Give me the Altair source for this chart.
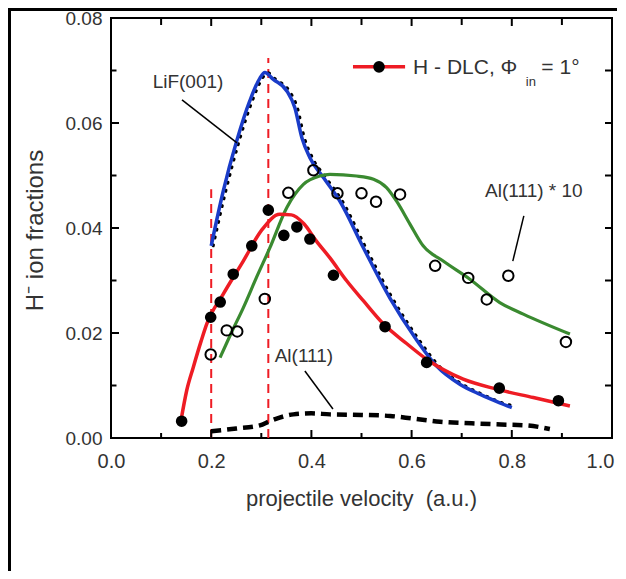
import altair as alt
import pandas as pd

FONT = "Liberation Sans"
TXT = "#333333"

# ---- measured H-DLC (filled circles) ----
dlc_x = [0.141, 0.199, 0.218, 0.244, 0.281, 0.314, 0.345, 0.371, 0.397, 0.444, 0.547, 0.630, 0.775, 0.893]
dlc_y = [0.0032, 0.0230, 0.0259, 0.0312, 0.0366, 0.0434, 0.0386, 0.0402, 0.0379, 0.0310, 0.0212, 0.0144, 0.0095, 0.0071]

# ---- Al(111) * 10 (open circles) ----
al10_x = [0.199, 0.231, 0.252, 0.307, 0.354, 0.404, 0.452, 0.500, 0.529, 0.577, 0.647, 0.713, 0.750, 0.793, 0.908]
al10_y = [0.0159, 0.0205, 0.0203, 0.0265, 0.0467, 0.0510, 0.0466, 0.0466, 0.0450, 0.0464, 0.0328, 0.0305, 0.0264, 0.0309, 0.0183]

# ---- red fit curve (H-DLC) ----
red_x = [0.14, 0.151, 0.164, 0.18, 0.191, 0.224, 0.264, 0.30, 0.337, 0.36, 0.385, 0.41, 0.437, 0.47, 0.504, 0.544, 0.59, 0.63, 0.703, 0.77, 0.843, 0.916]
red_y = [0.0035, 0.0090, 0.0134, 0.0185, 0.0217, 0.0274, 0.0337, 0.0395, 0.0426, 0.0425, 0.0408, 0.0375, 0.0343, 0.0300, 0.0261, 0.0217, 0.0180, 0.0150, 0.0112, 0.0093, 0.0077, 0.0061]

# ---- blue curve LiF(001) ----
lif_x = [0.20, 0.224, 0.251, 0.277, 0.297, 0.307, 0.324, 0.351, 0.367, 0.381, 0.397, 0.424, 0.457, 0.504, 0.557, 0.607, 0.650, 0.697, 0.737, 0.776, 0.80]
lif_y = [0.0366, 0.0470, 0.0566, 0.0642, 0.0685, 0.0696, 0.0683, 0.0661, 0.0629, 0.0572, 0.0534, 0.0496, 0.0451, 0.0362, 0.0266, 0.0191, 0.0137, 0.0102, 0.0083, 0.0067, 0.0058]

# ---- black dotted curve under LiF(001) ----
lifd_x = [0.204, 0.229, 0.256, 0.282, 0.302, 0.312, 0.329, 0.356, 0.372, 0.386, 0.402, 0.429, 0.462, 0.509, 0.562, 0.612, 0.655, 0.702, 0.742, 0.781, 0.80]
lifd_y = [0.0366, 0.0470, 0.0566, 0.0642, 0.0685, 0.0696, 0.0683, 0.0661, 0.0629, 0.0572, 0.0534, 0.0496, 0.0451, 0.0362, 0.0266, 0.0191, 0.0137, 0.0102, 0.0083, 0.0067, 0.0062]

# ---- green curve Al(111)*10 ----
grn_x = [0.2176, 0.24, 0.264, 0.29, 0.317, 0.351, 0.384, 0.417, 0.437, 0.49, 0.524, 0.55, 0.570, 0.597, 0.623, 0.663, 0.717, 0.776, 0.823, 0.916]
grn_y = [0.0153, 0.0200, 0.0248, 0.0305, 0.0362, 0.0439, 0.0483, 0.0499, 0.0502, 0.0499, 0.0493, 0.0477, 0.0451, 0.0407, 0.0366, 0.0337, 0.0302, 0.0258, 0.0236, 0.0198]

# ---- black dashed curve Al(111) ----
al_x = [0.20, 0.25, 0.297, 0.317, 0.364, 0.40, 0.437, 0.50, 0.557, 0.603, 0.657, 0.72, 0.77, 0.83, 0.876]
al_y = [0.0013, 0.0018, 0.0024, 0.0032, 0.0045, 0.0047, 0.0045, 0.0044, 0.0042, 0.0037, 0.0031, 0.0028, 0.0026, 0.0024, 0.0017]

# ---- vertical red dashed markers ----
vline_x = [0.20, 0.314]
vline_top = [0.0474, 0.0724]

# ---- axes ----
x_labels = [0.0, 0.2, 0.4, 0.6, 0.8, 1.0]
y_labels = [0.00, 0.02, 0.04, 0.06, 0.08]
x_major = [0.2, 0.4, 0.6, 0.8]
x_minor = [0.1, 0.3, 0.5, 0.7, 0.9]
y_major = [0.02, 0.04, 0.06]
y_minor = [0.01, 0.03, 0.05, 0.07]

# ---- annotations ----
ann_text = ["LiF(001)", "Al(111) * 10", "Al(111)"]
ann_x = [0.1537, 0.844, 0.385]
ann_y = [0.0678, 0.0470, 0.0156]
lead_x = [0.1417, 0.824, 0.387]
lead_y = [0.0644, 0.0423, 0.01276]
lead_x2 = [0.2515, 0.802, 0.443]
lead_y2 = [0.0562, 0.0337, 0.00552]

XT = "projectile velocity\u00a0 (a.u.)"
YT = "H\u207b ion fractions"

XS = alt.Scale(domain=[0, 1], nice=False, zero=False)
YS = alt.Scale(domain=[0, 0.08], nice=False, zero=False)

x_axis = alt.Axis(values=x_labels, format=".1f", ticks=False, domain=False, grid=False,
                  labelFont=FONT, labelFontSize=20, labelColor=TXT, labelPadding=13, labelFlush=False,
                  labelOffset={"condition": {"test": "datum.value > 0.95", "value": -12}, "value": 0},
                  titleFont=FONT, titleFontSize=22,
                  titleFontWeight="normal", titleColor=TXT, titleX=250, titleY=60,
                  titleBaseline="middle", titleAlign="center")
y_axis = alt.Axis(values=y_labels, format=".2f", ticks=False, domain=False, grid=False,
                  labelFont=FONT, labelFontSize=19, labelColor=TXT, labelPadding=9, labelFlush=False,
                  titleFont=FONT, titleFontSize=24,
                  titleFontWeight="normal", titleColor=TXT, titleX=-76, titleY=212, titleAngle=270,
                  titleBaseline="middle", titleAlign="center")


def X(f="x"):
    return alt.X(f + ":Q", scale=XS, axis=x_axis, title=XT)


def Y(f="y"):
    return alt.Y(f + ":Q", scale=YS, axis=y_axis, title=YT)


vl_df = pd.DataFrame({"x": vline_x, "y0": [0, 0], "y": vline_top})
vlines = alt.Chart(vl_df).mark_rule(color="#ee1c24", strokeWidth=2, strokeDash=[9, 6]).encode(
    x=X(), y=Y("y0"), y2="y:Q")

red_line = alt.Chart(pd.DataFrame({"x": red_x, "y": red_y})).mark_line(
    color="#ee1c24", strokeWidth=3.5, interpolate="monotone").encode(x=X(), y=Y())
lifd = alt.Chart(pd.DataFrame({"x": lifd_x, "y": lifd_y})).mark_line(
    color="black", strokeWidth=3, strokeDash=[1, 7], strokeCap="round", interpolate="monotone").encode(x=X(), y=Y())
lif = alt.Chart(pd.DataFrame({"x": lif_x, "y": lif_y})).mark_line(
    color="#1a3cc8", strokeWidth=3.5, interpolate="monotone").encode(x=X(), y=Y())
grn = alt.Chart(pd.DataFrame({"x": grn_x, "y": grn_y})).mark_line(
    color="#3a8a30", strokeWidth=3.2, interpolate="monotone").encode(x=X(), y=Y())
al = alt.Chart(pd.DataFrame({"x": al_x, "y": al_y})).mark_line(
    color="black", strokeWidth=4.5, strokeDash=[10, 6], interpolate="monotone").encode(x=X(), y=Y())

dlc_pts = alt.Chart(pd.DataFrame({"x": dlc_x, "y": dlc_y})).mark_circle(
    color="black", size=135, opacity=1).encode(x=X(), y=Y())
al10_pts = alt.Chart(pd.DataFrame({"x": al10_x, "y": al10_y})).mark_point(
    shape="circle", filled=False, color="black", size=110, strokeWidth=2, opacity=1).encode(x=X(), y=Y())

ann_df = pd.DataFrame({"t": ann_text, "x": ann_x, "y": ann_y})
ann = alt.Chart(ann_df).mark_text(font=FONT, fontSize=19, color=TXT, align="center", baseline="middle").encode(
    x=X(), y=Y(), text="t:N")
lead_df = pd.DataFrame({"x": lead_x, "y": lead_y, "x2": lead_x2, "y2": lead_y2})
leads = alt.Chart(lead_df).mark_rule(color="black", strokeWidth=1.5).encode(
    x=X(), y=Y(), x2="x2:Q", y2="y2:Q")


# ticks (inward, clipped to the frame)
def ticks(xs, ys, orient, size):
    df = pd.DataFrame({"x": xs, "y": ys})
    return alt.Chart(df).mark_tick(orient=orient, size=size, thickness=2, color="black", clip=True,
                                   opacity=1).encode(x=X(), y=Y())


tick_layers = [
    ticks(x_major, [0.0] * len(x_major), "vertical", 16),
    ticks(x_minor, [0.0] * len(x_minor), "vertical", 10),
    ticks(x_major, [0.08] * len(x_major), "vertical", 16),
    ticks(x_minor, [0.08] * len(x_minor), "vertical", 14),
    ticks([0.0] * len(y_major), y_major, "horizontal", 16),
    ticks([0.0] * len(y_minor), y_minor, "horizontal", 11),
    ticks([1.0] * len(y_major), y_major, "horizontal", 14),
    ticks([1.0] * len(y_minor), y_minor, "horizontal", 14),
]

# legend (hand drawn)
leg_line = alt.Chart(pd.DataFrame({"x": [0.483], "x2": [0.587], "y": [0.0707]})).mark_rule(
    color="#ee1c24", strokeWidth=3.5).encode(x=X(), x2="x2:Q", y=Y())
leg_dot = alt.Chart(pd.DataFrame({"x": [0.535], "y": [0.0707]})).mark_circle(
    color="black", size=135, opacity=1).encode(x=X(), y=Y())
leg_txt = alt.Chart(pd.DataFrame({"t": ["H - DLC, \u03a6", "= 1\u00b0"], "x": [0.603, 0.859], "y": [0.0704, 0.0704]})).mark_text(
    font=FONT, fontSize=21, color=TXT, align="left", baseline="middle").encode(x=X(), y=Y(), text="t:N")
leg_sub = alt.Chart(pd.DataFrame({"t": ["in"], "x": [0.828], "y": [0.0679]})).mark_text(
    font=FONT, fontSize=13, color=TXT, align="left", baseline="middle").encode(x=X(), y=Y(), text="t:N")

# outer frame of the picture (page decoration)
frame_df = pd.DataFrame({"a": [0]})
frame_top = alt.Chart(frame_df).mark_rule(color="black", strokeWidth=3).encode(
    x=alt.value(-103), x2=alt.value(507), y=alt.value(-8.5))
frame_left = alt.Chart(frame_df).mark_rule(color="black", strokeWidth=3).encode(
    x=alt.value(-101.5), y=alt.value(-10), y2=alt.value(553))

chart = alt.layer(
    vlines, lifd, lif, grn, red_line, al, leads, dlc_pts, al10_pts, ann,
    *tick_layers, leg_line, leg_dot, leg_txt, leg_sub, frame_top, frame_left
).properties(
    width=501, height=420,
    padding={"left": 103, "top": 10, "right": 5, "bottom": 133},
    autosize=alt.AutoSizeParams(type="none"),
    background="white",
).configure_view(stroke="black", strokeWidth=2)

chart.save("out.html", embed_options={"renderer": "svg", "actions": False})
